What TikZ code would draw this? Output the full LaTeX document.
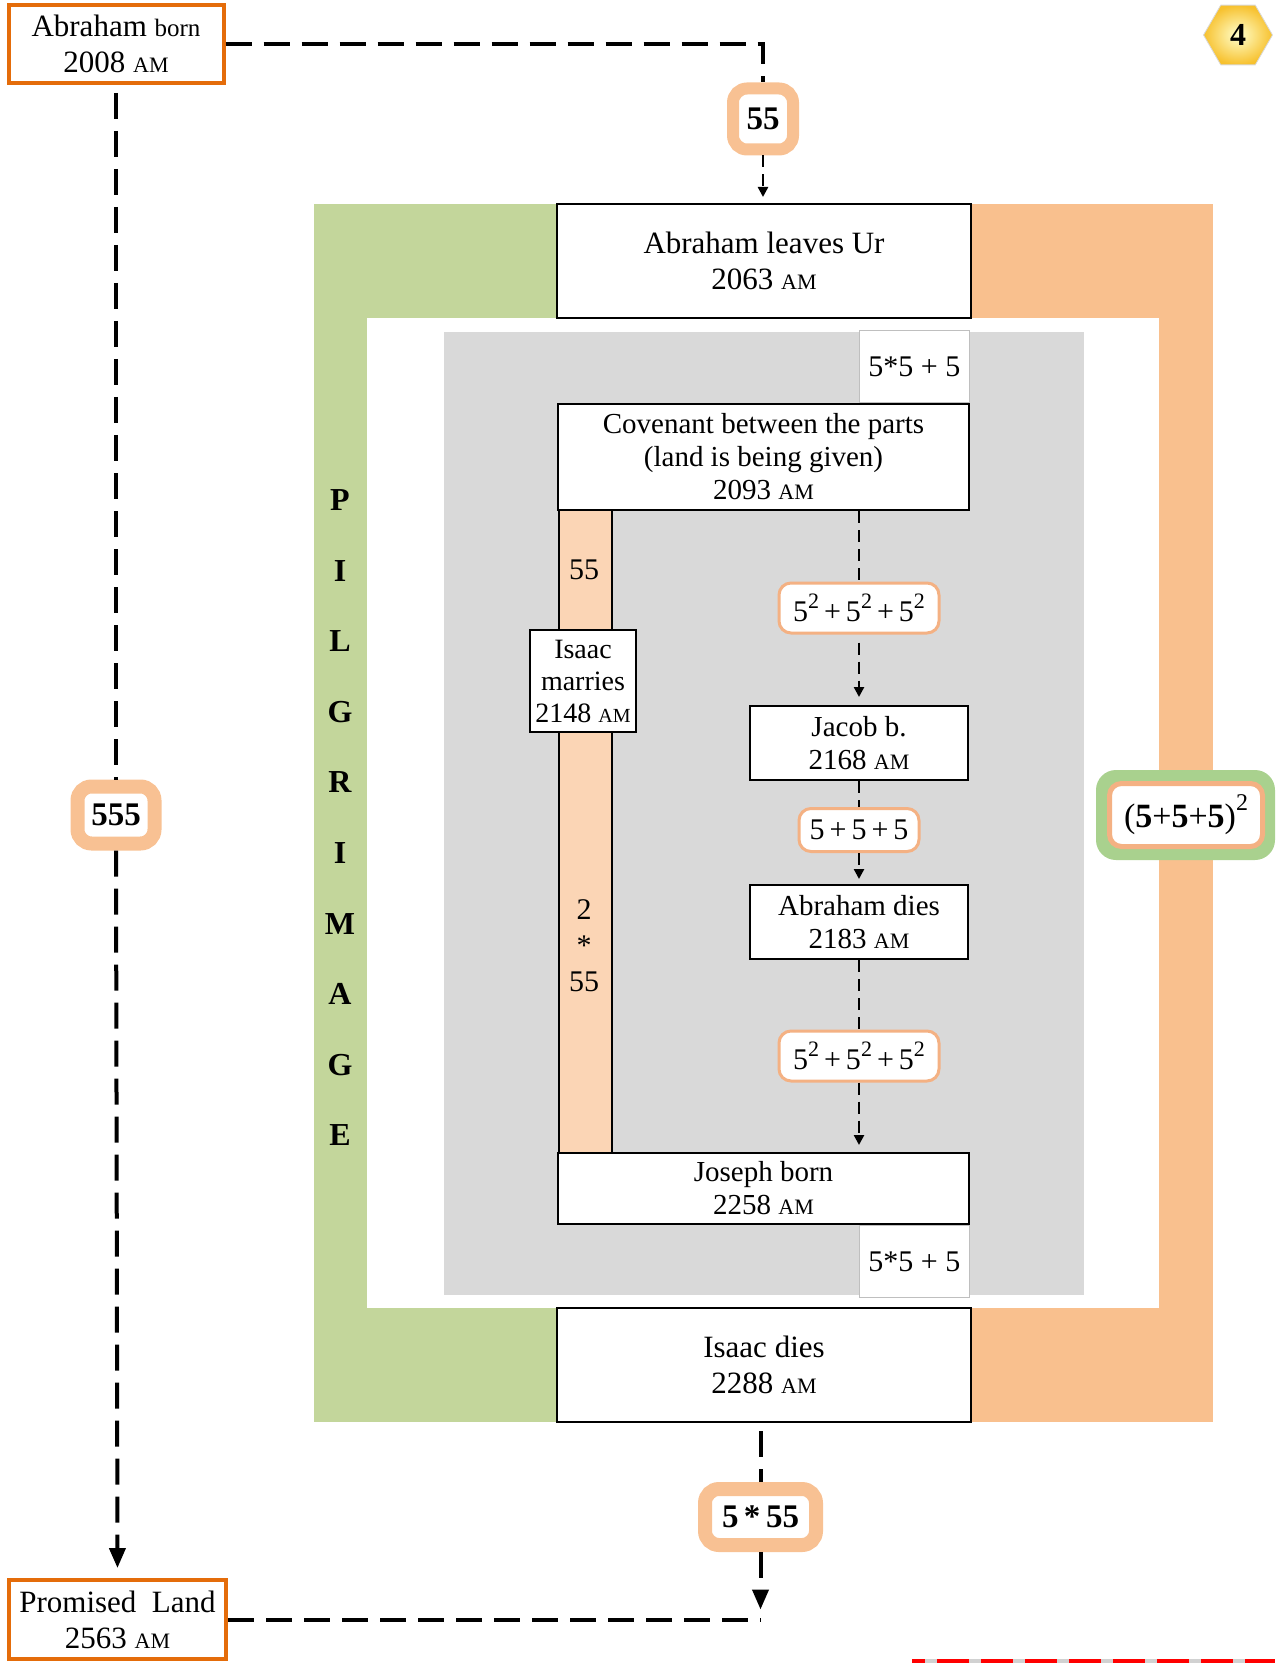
\documentclass[tikz,border=0pt]{standalone}
\usepackage{fontspec}
\setmainfont{Liberation Serif}
\usetikzlibrary{arrows.meta,shapes.geometric}

\definecolor{ochre}{HTML}{E46C0A}
\definecolor{peach}{HTML}{F8C193}
\definecolor{tagline}{HTML}{F4B183}
\definecolor{stripfill}{HTML}{FBD5B5}
\definecolor{leafgreen}{HTML}{C3D69B}
\definecolor{frameorange}{HTML}{F9C08E}
\definecolor{padgreen}{HTML}{A9D18E}
\definecolor{panegray}{HTML}{D9D9D9}
\definecolor{hexgold}{HTML}{F7C12E}

\newcommand\am{{\fontsize{11}{12}\selectfont AM}}
\newcommand\sqmark{\raisebox{0.95ex}{\fontsize{11}{11}\selectfont 2}}
\newcommand\sqfive{5\sqmark}
\newcommand\evfont{\fontsize{14.5}{16.5}\selectfont}
\newcommand\bigevfont{\fontsize{15.5}{18}\selectfont}

\begin{document}
\begin{tikzpicture}[
  x=0.5pt, y=-0.5pt,
  event/.style={draw, line width=1pt, fill=white, align=center, inner sep=0pt, font=\evfont},
  endpoint/.style={draw=ochre, line width=2pt, fill=white, align=center, inner sep=0pt, font=\bigevfont},
  sumcell/.style={draw=black!25, line width=0.6pt, fill=white, inner sep=0pt, minimum width=55pt, minimum height=36pt, font=\fontsize{15}{16}\selectfont},
  sumtag/.style={draw=tagline, line width=1.5pt, fill=white, rounded corners=6pt, inner sep=0pt, font=\fontsize{15}{16}\selectfont},
  yeartag/.style={draw=peach, line width=6pt, fill=white, rounded corners=7pt, inner sep=0pt, font=\bfseries\fontsize{16.5}{18}\selectfont},
  bigdash/.style={line width=2pt, dash pattern=on 13pt off 6pt},
  smalldash/.style={line width=1.2pt, dash pattern=on 6pt off 3.5pt, -{Triangle[length=5pt,width=5pt]}},
  bigtip/.style={-{Triangle[length=10pt,width=8pt]}},
  pilg/.style={font=\bfseries\fontsize{16}{16}\selectfont}
]
\useasboundingbox (0,0) rectangle (1275,1663);

% pilgrimage frame
\fill[leafgreen] (314,204) rectangle (764,1422);
\fill[frameorange] (764,204) rectangle (1213,1422);
\fill[white] (367,318) rectangle (1159,1308);
\fill[panegray] (444,332) rectangle (1084,1295);

\foreach \ch [count=\i from 0] in {P,I,L,G,R,I,M,A,G,E}
  \node[pilg] (pl\i) at (340,{500+70.6*\i}) {\ch};

% Isaac strip
\draw[line width=1pt, fill=stripfill] (559,510) rectangle (612,1153);
\node[font=\fontsize{15}{18}\selectfont] (strip55) at (584,570) {55};
\node[font=\fontsize{15}{18}\selectfont, align=center] (strip255) at (584,946) {2\\*\\55};

% events
\node[endpoint, minimum width=107.5pt, minimum height=39pt] (abborn) at (116,44) {Abraham {\fontsize{12.5}{14}\selectfont born}\\2008 \am};
\node[endpoint, minimum width=108.5pt, minimum height=39.5pt] (promised) at (117.5,1619.5) {Promised~~Land\\2563 \am};
\node[event, font=\bigevfont, minimum width=207pt, minimum height=57pt] (leavesur) at (764,261) {Abraham leaves Ur\\2063 \am};
\node[event, minimum width=205.5pt, minimum height=53pt] (covenant) at (763.5,457) {Covenant between the parts\\(land is being given)\\2093 \am};
\node[event, font=\fontsize{14}{16}\selectfont, minimum width=53pt, minimum height=51pt] (isaacmar) at (583,681) {Isaac\\marries\\2148 {\fontsize{10}{11}\selectfont AM}};
\node[event, minimum width=109pt, minimum height=37pt] (jacob) at (859,743) {Jacob b.\\2168 \am};
\node[event, minimum width=109pt, minimum height=37pt] (abdies) at (859,922) {Abraham dies\\2183 \am};
\node[event, minimum width=205.5pt, minimum height=35.5pt] (joseph) at (763.5,1188.5) {Joseph born\\2258 \am};
\node[event, font=\bigevfont, minimum width=207pt, minimum height=57pt] (isaacdies) at (764,1365) {Isaac dies\\2288 \am};

\node[sumcell, anchor=south east] (celltop) at (covenant.north east) {5*5 + 5};
\node[sumcell, anchor=north east] (cellbot) at (joseph.south east) {5*5 + 5};

% sums
\node[sumtag, minimum width=80pt, minimum height=25pt] (tagA) at (859,608) {\sqfive\,+\,\sqfive\,+\,\sqfive};
\node[sumtag, minimum width=60pt, minimum height=21.5pt] (tagB) at (859,830) {5\,+\,5\,+\,5};
\node[sumtag, minimum width=80pt, minimum height=25pt] (tagC) at (859,1056) {\sqfive\,+\,\sqfive\,+\,\sqfive};

\node[yeartag, minimum width=30pt, minimum height=30.5pt] (lab55) at (763,119) {55};
\node[yeartag, line width=7pt, minimum width=38.5pt, minimum height=28.5pt] (lab555) at (116,815) {555};
\node[yeartag, line width=7pt, minimum width=55.5pt, minimum height=28pt] (lab5x55) at (760.5,1517) {5\,*\,55};

\node[fill=padgreen, rounded corners=10pt, minimum width=89.5pt, minimum height=45pt] (sqpad) at (1185.5,815) {};
\node[sumtag, line width=2.5pt, minimum width=76.5pt, minimum height=31.5pt, font=\fontsize{17}{17}\selectfont] (sqtag) at (1186,815) {(\textbf{5}+\textbf{5}+\textbf{5})\raisebox{1.1ex}{\fontsize{12}{12}\selectfont 2}};

\node[regular polygon, regular polygon sides=6, minimum size=34.5pt, inner sep=0pt, draw=black!15, shading=radial, inner color=yellow!20!white, outer color=hexgold, font=\bfseries\fontsize{16}{16}\selectfont] (badge) at (1238,35) {4};

% connectors
\draw[bigdash] (abborn.east) -| (lab55.north);
\draw[smalldash, shorten >=3pt] (lab55.south) -- (lab55.south |- leavesur.north);
\draw[bigdash, shorten <=4pt] (abborn.south) -- (lab555.north);
\draw[bigdash, bigtip, shorten >=5pt] (lab555.south) -- (promised.north);
\coordinate (landfall) at (lab5x55.south |- promised.east);
\draw[bigdash] (promised.east) -- (landfall);
\draw[bigdash, shorten <=4pt] (isaacdies.south -| lab5x55.north) -- (lab5x55.north);
\draw[bigdash, bigtip, shorten >=5pt] (lab5x55.south) -- (landfall);

\draw[smalldash, shorten <=4pt, shorten >=4pt] (covenant.south -| jacob.north) -- (tagA) -- (jacob.north);
\draw[smalldash, shorten >=2.5pt] (jacob.south) -- (tagB) -- (abdies.north);
\draw[smalldash, shorten >=3.5pt] (abdies.south) -- (tagC) -- (abdies.south |- joseph.north);

% cut-off rule at the foot
\draw[line width=2pt, black!18] (912,1661) -- (1275,1661);
\draw[line width=2pt, red, dash pattern=on 16pt off 6pt, dash phase=9.5pt] (912,1661) -- (1275,1661);
\end{tikzpicture}
\end{document}
